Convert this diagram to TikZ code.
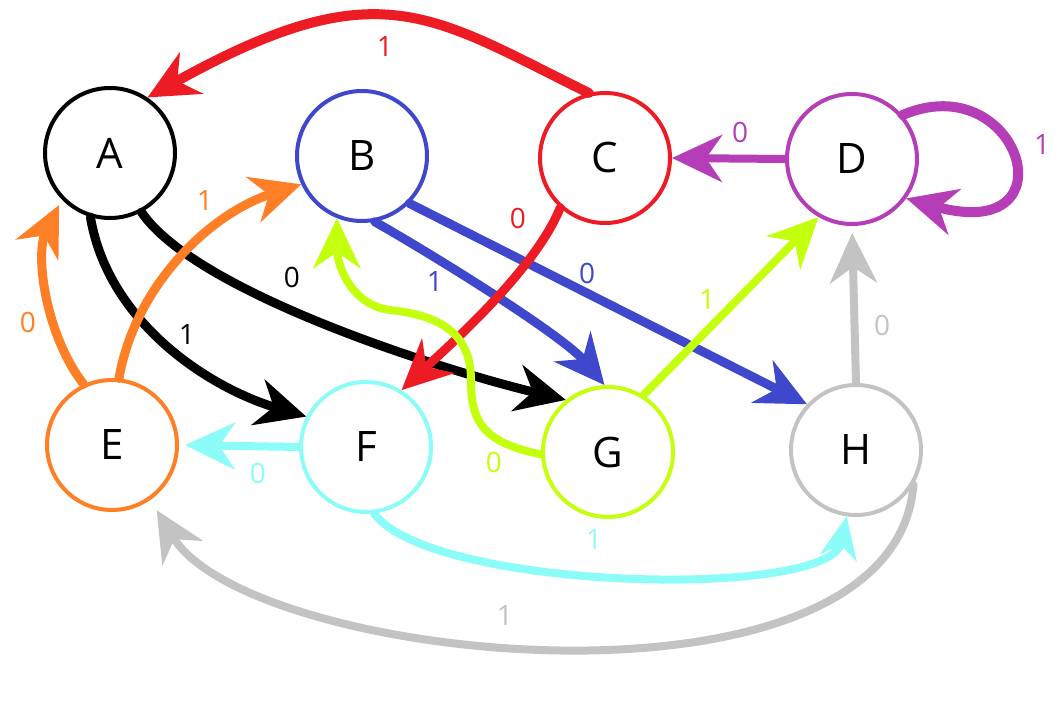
\documentclass[tikz,border=0pt]{standalone}
\usepackage{fontspec}
\setmainfont{Open Sans}
\usetikzlibrary{arrows.meta}
\definecolor{cred}{HTML}{ED1C24}
\definecolor{cblue}{HTML}{3F48CC}
\definecolor{cpurple}{HTML}{B53DB8}
\definecolor{corange}{HTML}{FF7F27}
\definecolor{ccyan}{HTML}{8CFCF8}
\definecolor{clime}{HTML}{C4FF0E}
\definecolor{cgray}{HTML}{C3C3C3}
\begin{document}
\begin{tikzpicture}[x=1pt,y=-1pt,
  stnode/.style={circle,draw,line width=4pt,minimum size=130pt,inner sep=0pt,
    text=black,font=\fontsize{42}{42}\selectfont},
  conn/.style={line width=9pt,line cap=round,
    -{Stealth[length=50pt,width=47pt,inset=16pt]}},
  thin conn/.style={conn,line width=8pt},
  small tip/.style={-{Stealth[length=42pt,width=37pt,inset=13pt]}},
  lbl/.style={font=\fontsize{28}{28}\selectfont,inner sep=0pt}]
\useasboundingbox (0,0) rectangle (1061,708);

% states
\node[stnode,draw=black]   (A) at (110,153) {A};
\node[stnode,draw=cblue]   (B) at (362,156) {B};
\node[stnode,draw=cred]    (C) at (605,158) {C};
\node[stnode,draw=cpurple] (D) at (852,159) {D};
\node[stnode,draw=corange] (E) at (112,445) {E};
\node[stnode,draw=ccyan]   (F) at (366,447) {F};
\node[stnode,draw=clime]   (G) at (608,452) {G};
\node[stnode,draw=cgray]   (H) at (856,450) {H};

% waypoints of the S-shaped G -> B transition
\coordinate (gb1) at (471,380);
\coordinate (gb2) at (390,310);

% transitions out of A
\draw[conn,black] (A.-107) .. controls +(18,107) and +(-95,-28) .. (F.153);
\draw[conn,black] (A.-62) .. controls +(53,78) and +(-136,-33) .. (G.129);

% transitions out of B
\draw[conn,cblue] (B.-79) .. controls +(70,40) and +(-40,-48) .. (G.93);
\draw[conn,cblue] (B.-45) -- (H.137);

% transitions out of C
\draw[conn,cred,line width=10pt] (C.104) .. controls +(-159,-78) and +(232,-129) .. (A.56);
\draw[conn,cred] (C.-132) .. controls +(-25,62) and +(48,-45) .. (F.58);

% transitions out of D
\draw[thin conn,cpurple] (D.west) -- (C.east);
\draw[conn,cpurple,line width=10pt] (D.41) .. controls +(117,-50) and +(169,47) .. (D.-36);

% transitions out of E
\draw[conn,corange,shorten >=6pt] (E.115) .. controls +(-38,-49) and +(-27,55) .. (A.-136);
\draw[conn,corange] (E.84) .. controls +(16,-93) and +(-91,29) .. (B.-155);

% transitions out of F
\draw[thin conn,ccyan,shorten >=6pt] (F.west) -- (E.east);
\draw[thin conn,ccyan,small tip] (F.-83) .. controls +(56,77) and +(-17,84) .. (H.-98);

% transitions out of G
\draw[thin conn,clime] (G.182) .. controls +(-60,-12) and +(0,40) .. (gb1)
  .. controls +(0,-50) and +(45,5) .. (gb2)
  .. controls +(-40,-5) and +(0,45) .. (B.-112);
\draw[thin conn,clime] (G.58) -- (D.-120);

% transitions out of H
\draw[thin conn,cgray,shorten >=7pt] (H.north) -- (D.south);
\draw[thin conn,cgray,shorten >=12pt] (H.-31) .. controls +(-18,245) and +(100,165) .. (E.-55);

% input symbols
\node[lbl,text=cred]    (lCA) at (385,47)   {1};
\node[lbl,text=cred]    (lCF) at (518,218)  {0};
\node[lbl,text=black]   (lAG) at (292,277)  {0};
\node[lbl,text=black]   (lAF) at (187,335)  {1};
\node[lbl,text=cblue]   (lBG) at (435,282)  {1};
\node[lbl,text=cblue]   (lBH) at (587,273)  {0};
\node[lbl,text=corange] (lEB) at (205,201)  {1};
\node[lbl,text=corange] (lEA) at (28,322)   {0};
\node[lbl,text=cpurple] (lDC) at (740,132)  {0};
\node[lbl,text=cpurple] (lDD) at (1042,145) {1};
\node[lbl,text=clime]   (lGD) at (707,300)  {1};
\node[lbl,text=clime]   (lGB) at (494,462)  {0};
\node[lbl,text=cgray]   (lHD) at (882,325)  {0};
\node[lbl,text=cgray]   (lHE) at (505,616)  {1};
\node[lbl,text=ccyan]   (lFE) at (258,473)  {0};
\node[lbl,text=ccyan]   (lFH) at (594,540)  {1};
\end{tikzpicture}
\end{document}
